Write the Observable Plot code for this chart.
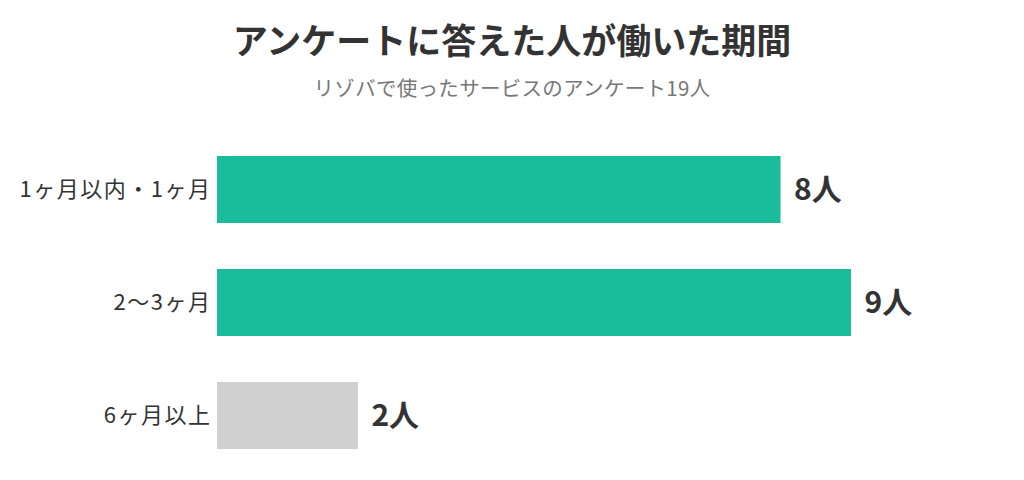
<!DOCTYPE html>
<html><head><meta charset="utf-8">
<script src="https://cdn.jsdelivr.net/npm/d3@7"></script>
<script src="https://cdn.jsdelivr.net/npm/@observablehq/plot@0.6"></script>
<style>
html,body{margin:0;padding:0;background:#fff;}
body{width:1024px;height:480px;overflow:hidden;font-family:"Noto Sans CJK JP","Noto Sans",sans-serif;}
#title{position:absolute;left:0;top:14px;width:1024px;text-align:center;font-size:35px;font-weight:700;color:#333;line-height:50px;}
#subtitle{position:absolute;left:0;top:72px;width:1024px;text-align:center;font-size:20.5px;color:#777;line-height:30px;letter-spacing:0.3px;}
#chart{position:absolute;left:0;top:110px;}
</style></head><body>
<div id="title">アンケートに答えた人が働いた期間</div>
<div id="subtitle">リゾバで使ったサービスのアンケート19人</div>
<div id="chart"></div>
<script>
const categories = ["1ヶ月以内・1ヶ月", "2〜3ヶ月", "6ヶ月以上"];
const counts = [8, 9, 2];
const colors = ["#1ABC9C", "#1ABC9C", "#D0D0D0"];
const valueLabels = ["8人", "9人", "2人"];

const data = categories.map((c, i) => ({cat: c, n: counts[i], color: colors[i], label: valueLabels[i]}));

const plot = Plot.plot({
  width: 1024,
  height: 370,
  marginLeft: 217,
  marginRight: 173,
  marginTop: 33.6,
  marginBottom: 19.6,
  style: {fontFamily: '"Noto Sans CJK JP", sans-serif', background: "#fff"},
  x: {domain: [0, 9], axis: null},
  y: {domain: categories, paddingInner: 0.41, paddingOuter: 0.1, label: null, tickSize: 0, tickPadding: 6},
  marks: [
    Plot.barX(data, {y: "cat", x: "n", fill: "color"}),
    Plot.axisY({tickSize: 0, tickPadding: 6, fontSize: 22, label: null, color: "#333"}),
    Plot.text(data, {y: "cat", x: "n", text: "label", dx: 13, textAnchor: "start", fontSize: 30, fontWeight: "bold", fill: "#333"})
  ]
});
plot.querySelectorAll('[aria-label="y-axis tick label"] text').forEach(t => { t.setAttribute("fill", "#333"); t.setAttribute("letter-spacing", "1.5px"); });
document.getElementById("chart").appendChild(plot);
</script>
</body></html>
